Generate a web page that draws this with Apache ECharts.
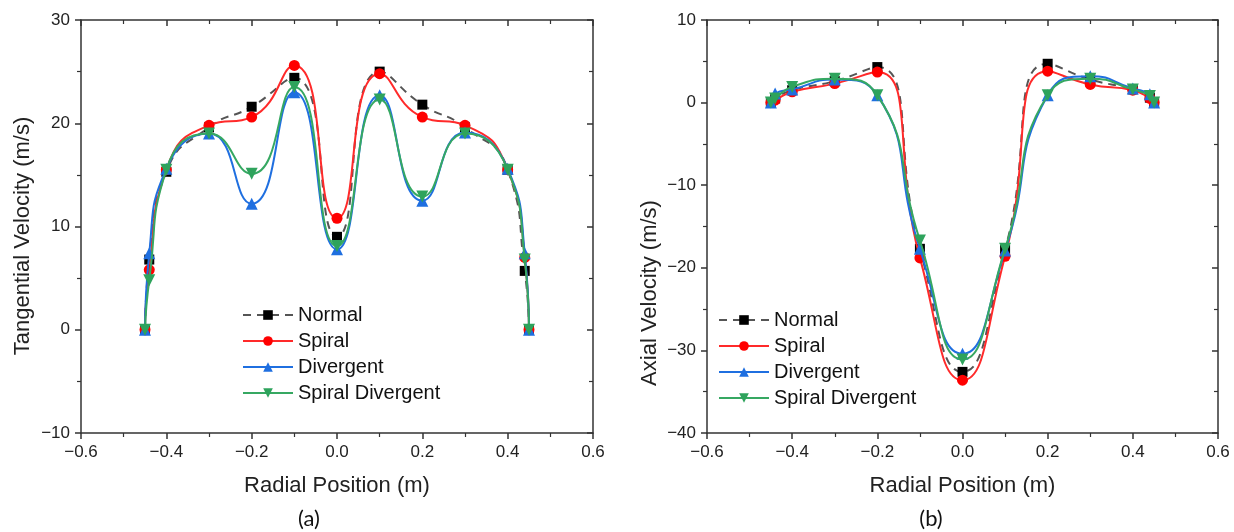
<!DOCTYPE html>
<html>
<head>
<meta charset="utf-8">
<script src="https://cdn.jsdelivr.net/npm/echarts@6/dist/echarts.min.js"></script>
<style>
html,body{margin:0;padding:0;background:#fff;}
#chart{width:1234px;height:532px;}
</style>
</head>
<body>
<div id="chart"></div>
<script>
// ---- data ----
var radialPos = [-0.45, -0.44, -0.4, -0.3, -0.2, -0.1, 0, 0.1, 0.2, 0.3, 0.4, 0.44, 0.45];
var seriesNames = ['Normal', 'Spiral', 'Divergent', 'Spiral Divergent'];

var tanNormal    = [0, 6.8, 15.3, 19.6, 21.6, 24.4, 9.0, 25.0, 21.8, 19.6, 15.5, 5.7, 0];
var tanSpiral    = [0, 5.8, 15.5, 19.8, 20.6, 25.6, 10.8, 24.8, 20.6, 19.8, 15.5, 7.0, 0];
var tanDivergent = [0, 7.4, 15.6, 19.0, 12.2, 23.0, 7.8, 22.7, 12.5, 19.1, 15.6, 7.4, 0];
var tanSpiralDiv = [0, 4.8, 15.5, 19.0, 15.1, 23.5, 8.1, 22.3, 12.9, 19.0, 15.5, 6.8, 0];

var axNormal    = [0, 0.5, 1.5, 2.6, 4.3, -17.7, -32.6, -17.8, 4.7, 2.8, 1.6, 0.6, 0];
var axSpiral    = [0, 0.3, 1.3, 2.3, 3.7, -18.8, -33.6, -18.6, 3.8, 2.2, 1.5, 0.5, 0];
var axDivergent = [0, 1.1, 1.6, 2.8, 0.9, -17.7, -30.4, -17.9, 0.9, 3.2, 1.7, 1.0, 0];
var axSpiralDiv = [0, 0.5, 1.9, 2.9, 0.9, -16.7, -31.1, -17.7, 0.9, 2.9, 1.6, 0.8, 0];

var xTickMin = -0.6, xTickMax = 0.6, xTickStep = 0.2;
var tanMin = -10, tanMax = 30, tanStep = 10;
var axMin = -40, axMax = 10, axStep = 10;

var xTitle = 'Radial Position (m)';
var yTitleA = 'Tangential Velocity (m/s)';
var yTitleB = 'Axial Velocity (m/s)';
var captions = ['(a)', '(b)'];

// ---- styles ----
var FONT = "'Liberation Sans', Arial, sans-serif";
var styles = [
  {color: '#000000', line: '#555555', type: [8, 6], symbol: 'rect', size: 10, rotate: 0},
  {color: '#ff0000', line: '#ff2a2a', type: 'solid', symbol: 'circle', size: 11, rotate: 0},
  {color: '#1f6fe0', line: '#1f6fe0', type: 'solid', symbol: 'triangle', size: 12, rotate: 0},
  {color: '#2ea35c', line: '#36a862', type: 'solid', symbol: 'triangle', size: 12, rotate: 180}
];

function pairs(ys) { return radialPos.map(function (x, i) { return [x, ys[i]]; }); }
function minusFmt(v, dec) {
  var s = Number(v).toFixed(dec);
  return s.replace('-', '\u2212');
}

var grids = [
  {left: 81, top: 20, width: 512, height: 413},
  {left: 707, top: 20, width: 511, height: 413}
];
var AX = '#333';

function xAxes(gi) {
  return [{
    type: 'value', gridIndex: gi, min: xTickMin, max: xTickMax, interval: xTickStep,
    name: xTitle, nameLocation: 'middle', nameGap: 42,
    nameTextStyle: {fontFamily: FONT, fontSize: 22, color: '#222'},
    axisLine: {onZero: false, lineStyle: {color: AX, width: 1.5}},
    axisTick: {show: true, length: 6, lineStyle: {color: AX, width: 1.5}},
    minorTick: {show: true, splitNumber: 2, length: 4, lineStyle: {color: AX, width: 1.2}},
    axisLabel: {fontFamily: FONT, fontSize: 17, color: '#222', margin: 11,
      formatter: function (v) { return minusFmt(v, 1); }},
    splitLine: {show: false}
  }, {
    type: 'value', gridIndex: gi, position: 'top', min: xTickMin, max: xTickMax, interval: xTickStep,
    axisLine: {onZero: false, lineStyle: {color: AX, width: 1.5}},
    axisTick: {show: true, inside: true, length: 6, lineStyle: {color: AX, width: 1.5}},
    minorTick: {show: true, splitNumber: 2, length: 4, lineStyle: {color: AX, width: 1.2}},
    axisLabel: {show: false}, splitLine: {show: false}
  }];
}
function yAxes(gi, mn, mx, st) {
  return [{
    type: 'value', gridIndex: gi, min: mn, max: mx, interval: st,
    axisLine: {onZero: false, lineStyle: {color: AX, width: 1.5}},
    axisTick: {show: true, length: 6, lineStyle: {color: AX, width: 1.5}},
    minorTick: {show: true, splitNumber: 2, length: 4, lineStyle: {color: AX, width: 1.2}},
    axisLabel: {fontFamily: FONT, fontSize: 17, color: '#222', margin: 11,
      formatter: function (v) { return minusFmt(v, 0); }},
    splitLine: {show: false}
  }, {
    type: 'value', gridIndex: gi, position: 'right', min: mn, max: mx, interval: st,
    axisLine: {onZero: false, lineStyle: {color: AX, width: 1.5}},
    axisTick: {show: true, inside: true, length: 6, lineStyle: {color: AX, width: 1.5}},
    minorTick: {show: true, splitNumber: 2, length: 4, lineStyle: {color: AX, width: 1.2}},
    axisLabel: {show: false}, splitLine: {show: false}
  }];
}

function makeSeries(gi, datasets) {
  return datasets.map(function (ys, k) {
    var s = styles[k];
    return {
      name: seriesNames[k], type: 'line', xAxisIndex: gi * 2, yAxisIndex: gi * 2,
      data: pairs(ys), smooth: 0.55,
      symbol: s.symbol, symbolSize: s.size, symbolRotate: s.rotate,
      showAllSymbol: true,
      itemStyle: {color: s.color},
      lineStyle: {color: s.line, width: 2, type: s.type},
      z: 2 + k
    };
  });
}

var legendCommon = {
  orient: 'vertical', itemWidth: 50, itemHeight: 12, itemGap: 6,
  textStyle: {fontFamily: FONT, fontSize: 20, color: '#111'},
  data: seriesNames, selectedMode: false
};

var option = {
  animation: false,
  backgroundColor: '#ffffff',
  grid: grids,
  xAxis: xAxes(0).concat(xAxes(1)),
  yAxis: yAxes(0, tanMin, tanMax, tanStep).concat(yAxes(1, axMin, axMax, axStep)),
  legend: [
    Object.assign({left: 237, top: 300}, legendCommon),
    Object.assign({left: 713, top: 305}, legendCommon)
  ],
  series: makeSeries(0, [tanNormal, tanSpiral, tanDivergent, tanSpiralDiv])
    .concat(makeSeries(1, [axNormal, axSpiral, axDivergent, axSpiralDiv])),
  graphic: [
    {type: 'text', x: 23, y: 236, rotation: Math.PI / 2,
      style: {text: yTitleA, font: "22px 'Liberation Sans', Arial, sans-serif", fill: '#222',
        textAlign: 'center', textVerticalAlign: 'middle'}},
    {type: 'text', x: 650, y: 293, rotation: Math.PI / 2,
      style: {text: yTitleB, font: "22px 'Liberation Sans', Arial, sans-serif", fill: '#222',
        textAlign: 'center', textVerticalAlign: 'middle'}},
    {type: 'text', x: 309, y: 519,
      style: {text: captions[0], font: '22px Lato, sans-serif', fill: '#111',
        textAlign: 'center', textVerticalAlign: 'middle'}},
    {type: 'text', x: 931, y: 519,
      style: {text: captions[1], font: '22px Lato, sans-serif', fill: '#111',
        textAlign: 'center', textVerticalAlign: 'middle'}}
  ]
};

var chart = echarts.init(document.getElementById('chart'), null, {renderer: 'canvas'});
chart.setOption(option);
</script>
</body>
</html>
